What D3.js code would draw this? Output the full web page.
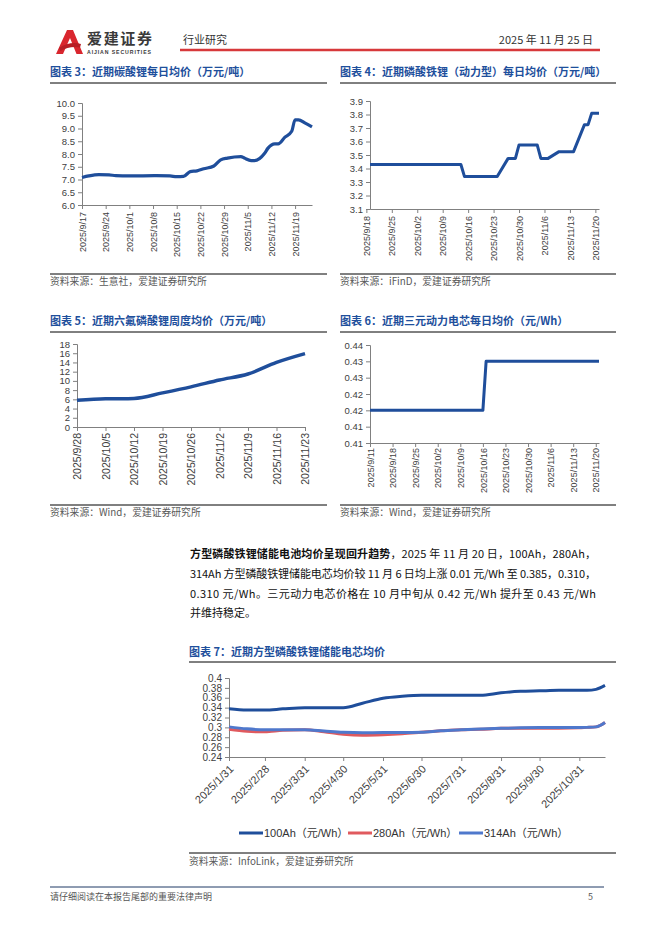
<!DOCTYPE html>
<html><head><meta charset="utf-8">
<script src="https://cdn.jsdelivr.net/npm/d3@7/dist/d3.min.js"></script>
<style>body{margin:0;background:#fff}svg{display:block}</style>
</head><body><svg id="c" width="662" height="936"></svg>
<script>
// ---------- DATA ----------
// 图表3 碳酸锂每日均价（万元/吨）
const lcDates = ["2025/9/17","2025/9/19","2025/9/22","2025/9/25","2025/9/27","2025/10/1","2025/10/9","2025/10/13","2025/10/15","2025/10/17","2025/10/19","2025/10/21","2025/10/23","2025/10/26","2025/10/28","2025/10/30","2025/11/3","2025/11/4","2025/11/6","2025/11/7","2025/11/10","2025/11/11","2025/11/13","2025/11/14","2025/11/16","2025/11/18","2025/11/19","2025/11/20","2025/11/22","2025/11/24"];
const lcValues = [7.08,7.14,7.19,7.18,7.15,7.14,7.15,7.14,7.11,7.12,7.31,7.34,7.42,7.53,7.77,7.84,7.90,7.84,7.74,7.74,8.03,8.23,8.40,8.40,8.66,8.89,9.34,9.34,9.21,9.06];
const lcTicks = ["2025/9/17","2025/9/24","2025/10/1","2025/10/8","2025/10/15","2025/10/22","2025/10/29","2025/11/5","2025/11/12","2025/11/19"];
const lcY = [6.0,6.5,7.0,7.5,8.0,8.5,9.0,9.5,10.0];

// 图表4 磷酸铁锂（动力型）每日均价（万元/吨）
const lfpDates = ["2025/9/19","2025/10/14","2025/10/15","2025/10/24","2025/10/27","2025/10/29","2025/10/30","2025/11/4","2025/11/5","2025/11/7","2025/11/10","2025/11/14","2025/11/17","2025/11/18","2025/11/19","2025/11/21"];
const lfpValues = [3.43,3.43,3.34,3.34,3.475,3.475,3.575,3.575,3.475,3.475,3.525,3.525,3.725,3.725,3.81,3.81];
const lfpTicks = ["2025/9/18","2025/9/25","2025/10/2","2025/10/9","2025/10/16","2025/10/23","2025/10/30","2025/11/6","2025/11/13","2025/11/20"];
const lfpY = [3.1,3.2,3.3,3.4,3.5,3.6,3.7,3.8,3.9];

// 图表5 六氟磷酸锂周度均价（万元/吨）
const lpfDates = ["2025/9/28","2025/10/5","2025/10/12","2025/10/19","2025/10/26","2025/11/2","2025/11/9","2025/11/16","2025/11/23"];
const lpfValues = [5.8,6.1,6.2,7.4,8.7,10.2,11.5,14.0,15.9];
const lpfY = [0,2,4,6,8,10,12,14,16,18];

// 图表6 三元动力电芯每日均价（元/Wh）
const ncmDates = ["2025/9/11","2025/10/16","2025/10/17","2025/11/21"];
const ncmValues = [0.42,0.42,0.435,0.435];
const ncmTicks = ["2025/9/11","2025/9/18","2025/9/25","2025/10/2","2025/10/9","2025/10/16","2025/10/23","2025/10/30","2025/11/6","2025/11/13","2025/11/20"];
const ncmY = [0.41,0.415,0.42,0.425,0.43,0.435,0.44];
const ncmYLabels = ["0.41","0.41","0.42","0.42","0.43","0.43","0.44"];

// 图表7 方型磷酸铁锂储能电芯均价
const essDates = ["2025/1/31","2025/2/14","2025/2/28","2025/3/14","2025/3/31","2025/4/15","2025/4/30","2025/5/15","2025/5/31","2025/6/15","2025/6/30","2025/7/15","2025/7/31","2025/8/15","2025/8/31","2025/9/15","2025/9/30","2025/10/15","2025/10/31","2025/11/6","2025/11/13","2025/11/20"];
const ess100 = [0.3375,0.335,0.335,0.3375,0.340,0.340,0.340,0.349,0.359,0.363,0.365,0.365,0.365,0.365,0.370,0.373,0.374,0.375,0.375,0.375,0.377,0.385];
const ess280 = [0.296,0.292,0.291,0.294,0.295,0.291,0.286,0.284,0.285,0.287,0.290,0.293,0.295,0.296,0.298,0.298,0.298,0.298,0.299,0.300,0.301,0.310];
const ess314 = [0.301,0.297,0.295,0.295,0.295,0.2925,0.290,0.289,0.2895,0.2895,0.290,0.293,0.295,0.2965,0.298,0.299,0.2995,0.2997,0.2997,0.300,0.301,0.310];
const essSeries = ["100Ah（元/Wh）","280Ah（元/Wh）","314Ah（元/Wh）"];
const essTicks = ["2025/1/31","2025/2/28","2025/3/31","2025/4/30","2025/5/31","2025/6/30","2025/7/31","2025/8/31","2025/9/30","2025/10/31"];
const essY = [0.24,0.26,0.28,0.3,0.32,0.34,0.36,0.38,0.4];

// ---------- STYLE ----------
const parse = d3.timeParse("%Y/%m/%d");
const svg = d3.select("#c");
const BLUE = "#1F4E9B", TITLE = "#1E4F9C", AXC = "#808080", LBL = "#404040";
const ESS_COLORS = ["#1F4E9B", "#E05A5E", "#4F78CC"];
const CJK = '"Noto Sans CJK SC", sans-serif';
const NUM = '"Liberation Sans", Arial, "Noto Sans CJK SC", sans-serif';
const fmtDate = d => `${d.getFullYear()}/${d.getMonth()+1}/${d.getDate()}`;

svg.append("rect").attr("width", 662).attr("height", 936).attr("fill", "#fff");

// ---------- HEADER ----------
const logo = svg.append("g");
logo.append("path").attr("d", "M56,54 L67,30 L73,30 L83,54 L76.5,54 L70,38 L63,54 Z").attr("fill", "#D9262E");
logo.append("path").attr("d", "M59,48 Q70,41 81,44 L80,47.5 Q70,45.5 60.5,51 Z").attr("fill", "#B81E25");
logo.append("text").attr("x", 87).attr("y", 44).text("爱建证券").attr("font-family", CJK).attr("font-weight", 700).attr("font-size", 15).attr("fill", "#3a3a3a").attr("textLength", 65);
logo.append("text").attr("x", 87).attr("y", 53.5).text("AIJIAN SECURITIES").attr("font-family", NUM).attr("font-weight", 700).attr("font-size", 5.2).attr("fill", "#3a3a3a").attr("textLength", 64);
svg.append("text").attr("x", 183).attr("y", 44).text("行业研究").attr("font-family", CJK).attr("font-size", 11).attr("fill", "#333");
svg.append("text").attr("x", 593).attr("y", 44).attr("text-anchor", "end").text("2025 年 11 月 25 日").attr("font-family", CJK).attr("font-size", 11).attr("fill", "#333");
svg.append("line").attr("x1", 180).attr("x2", 600).attr("y1", 50).attr("y2", 50).attr("stroke", "#D7383B").attr("stroke-width", 2.5);

// ---------- HELPERS ----------
function frame(x0, x1, titleY, lineY, bottomY, sourceY, title, source) {
  svg.append("text").attr("x", x0).attr("y", titleY).text(title)
    .attr("font-family", CJK).attr("font-weight", 700).attr("font-size", 11).attr("fill", TITLE);
  svg.append("line").attr("x1", x0).attr("x2", x1).attr("y1", lineY).attr("y2", lineY).attr("stroke", "#000").attr("stroke-width", 1);
  svg.append("line").attr("x1", x0).attr("x2", x1).attr("y1", bottomY).attr("y2", bottomY).attr("stroke", "#000").attr("stroke-width", 1);
  svg.append("text").attr("x", x0).attr("y", sourceY).text(source)
    .attr("font-family", CJK).attr("font-size", 9.8).attr("fill", "#595959");
}
function styleAxis(g, fs) {
  g.select(".domain").attr("stroke", AXC).attr("stroke-width", 1);
  g.selectAll(".tick line").attr("stroke", AXC);
  g.selectAll(".tick text").attr("fill", LBL).attr("font-family", NUM).attr("font-size", fs);
}
function yAxis(x0, y, vals, fmt, fs) {
  const g = svg.append("g").attr("transform", `translate(${x0},0)`)
    .call(d3.axisLeft(y).tickValues(vals).tickFormat(fmt).tickSize(4).tickPadding(3));
  styleAxis(g, fs);
  return g;
}
function xAxisVert(y0, x, ticks, fs, off) {
  const g = svg.append("g").attr("transform", `translate(0,${y0})`)
    .call(d3.axisBottom(x).tickValues(ticks.map(parse)).tickFormat(fmtDate).tickSize(4).tickSizeOuter(0));
  styleAxis(g, fs);
  g.selectAll(".tick text").attr("transform", "rotate(-90)").attr("text-anchor", "end")
    .attr("x", -off).attr("y", 0).attr("dy", "0.35em");
  return g;
}
function drawLine(dates, vals, x, y, color, width, curve) {
  const data = dates.map((d, i) => ({ d: parse(d), v: vals[i] }));
  svg.append("path").datum(data)
    .attr("d", d3.line().x(p => x(p.d)).y(p => y(p.v)).curve(curve))
    .attr("fill", "none").attr("stroke", color).attr("stroke-width", width)
    .attr("stroke-linejoin", "round");
}

// ---------- 图表3 ----------
frame(50, 327, 76, 83, 274, 285, "图表 3：近期碳酸锂每日均价（万元/吨）", "资料来源：生意社，爱建证券研究所");
{
  const x = d3.scaleTime().domain([parse("2025/9/17"), parse("2025/11/24")]).range([82, 312]);
  const y = d3.scaleLinear().domain([6, 10]).range([205, 103]);
  yAxis(82, y, lcY, d3.format(".1f"), 9.5);
  xAxisVert(205, x, lcTicks, 9, 7);
  drawLine(lcDates, lcValues, x, y, BLUE, 3.2, d3.curveMonotoneX);
}

// ---------- 图表4 ----------
frame(340, 616, 76, 83, 274, 285, "图表 4：近期磷酸铁锂（动力型）每日均价（万元/吨）", "资料来源：iFinD，爱建证券研究所");
{
  const x = d3.scaleTime().domain([parse("2025/9/19"), parse("2025/11/21")]).range([370, 599]);
  const y = d3.scaleLinear().domain([3.1, 3.9]).range([209, 101]);
  yAxis(370, y, lfpY, d3.format(".1f"), 9.5);
  xAxisVert(209, x, lfpTicks, 9, 7);
  drawLine(lfpDates, lfpValues, x, y, BLUE, 3, d3.curveLinear);
}

// ---------- 图表5 ----------
frame(50, 327, 325, 332, 505, 516, "图表 5：近期六氟磷酸锂周度均价（万元/吨）", "资料来源：Wind，爱建证券研究所");
{
  const x = d3.scaleTime().domain([parse("2025/9/28"), parse("2025/11/23")]).range([77, 305]);
  const y = d3.scaleLinear().domain([0, 18]).range([427, 344]);
  yAxis(77, y, lpfY, d3.format("d"), 9.5);
  xAxisVert(427, x, lpfDates, 10.5, 6);
  drawLine(lpfDates, lpfValues, x, y, BLUE, 3.5, d3.curveMonotoneX);
}

// ---------- 图表6 ----------
frame(340, 616, 325, 332, 505, 516, "图表 6：近期三元动力电芯每日均价（元/Wh）", "资料来源：Wind，爱建证券研究所");
{
  const x = d3.scaleTime().domain([parse("2025/9/11"), parse("2025/11/21")]).range([370, 599]);
  const y = d3.scaleLinear().domain([0.41, 0.44]).range([443, 345]);
  yAxis(370, y, ncmY, (d, i) => ncmYLabels[i], 9.5);
  xAxisVert(443, x, ncmTicks, 9, 5);
  drawLine(ncmDates, ncmValues, x, y, BLUE, 3, d3.curveLinear);
}

// ---------- 正文 ----------
{
  const lines = [
    { y: 558, fit: true, parts: [["方型磷酸铁锂储能电池均价呈现回升趋势", 700], ["，2025 年 11 月 20 日，100Ah，280Ah，", 400]] },
    { y: 578, fit: true, parts: [["314Ah 方型磷酸铁锂储能电芯均价较 11 月 6 日均上涨 0.01 元/Wh 至 0.385，0.310，", 400]] },
    { y: 598, fit: true, parts: [["0.310 元/Wh。三元动力电芯价格在 10 月中旬从 0.42 元/Wh 提升至 0.43 元/Wh", 400]] },
    { y: 617, fit: false, parts: [["并维持稳定。", 400]] }
  ];
  lines.forEach(l => {
    const t = svg.append("text").attr("x", 190).attr("y", l.y).attr("font-family", CJK).attr("font-size", 11).attr("fill", "#111");
    if (l.fit) t.attr("textLength", 406).attr("lengthAdjust", "spacing");
    l.parts.forEach(p => t.append("tspan").text(p[0]).attr("font-weight", p[1]));
  });
}

// ---------- 图表7 ----------
frame(189, 616, 656, 662, 853, 865, "图表 7：近期方型磷酸铁锂储能电芯均价", "资料来源：InfoLink，爱建证券研究所");
{
  const x = d3.scaleTime().domain([parse("2025/1/31"), parse("2025/11/20")]).range([229, 605]);
  const y = d3.scaleLinear().domain([0.24, 0.40]).range([757, 678]);
  yAxis(229, y, essY, d3.format("~g"), 10);
  const g = svg.append("g").attr("transform", "translate(0,757)")
    .call(d3.axisBottom(x).tickValues(essTicks.map(parse)).tickFormat(fmtDate).tickSize(4).tickSizeOuter(0));
  styleAxis(g, 11);
  g.selectAll(".tick text").attr("transform", "translate(2,10) rotate(-45)").attr("text-anchor", "end")
    .attr("x", 0).attr("y", 0).attr("dy", "0.35em");
  [ess100, ess280, ess314].forEach((s, i) => drawLine(essDates, s, x, y, ESS_COLORS[i], 3, d3.curveMonotoneX));
  // legend
  const lx = [239, 348, 459];
  essSeries.forEach((name, i) => {
    svg.append("line").attr("x1", lx[i]).attr("x2", lx[i] + 24).attr("y1", 833).attr("y2", 833)
      .attr("stroke", ESS_COLORS[i]).attr("stroke-width", 3);
    svg.append("text").attr("x", lx[i] + 25).attr("y", 837).text(name)
      .attr("font-family", NUM).attr("font-size", 11).attr("fill", "#333");
  });
}

// ---------- FOOTER ----------
svg.append("line").attr("x1", 50).attr("x2", 604).attr("y1", 887).attr("y2", 887).attr("stroke", "#1F3864").attr("stroke-width", 1);
svg.append("text").attr("x", 50).attr("y", 900).text("请仔细阅读在本报告尾部的重要法律声明").attr("font-family", CJK).attr("font-size", 9).attr("fill", "#555");
svg.append("text").attr("x", 593).attr("y", 900).attr("text-anchor", "end").text("5").attr("font-family", CJK).attr("font-size", 9).attr("fill", "#555");
</script>
</body></html>
